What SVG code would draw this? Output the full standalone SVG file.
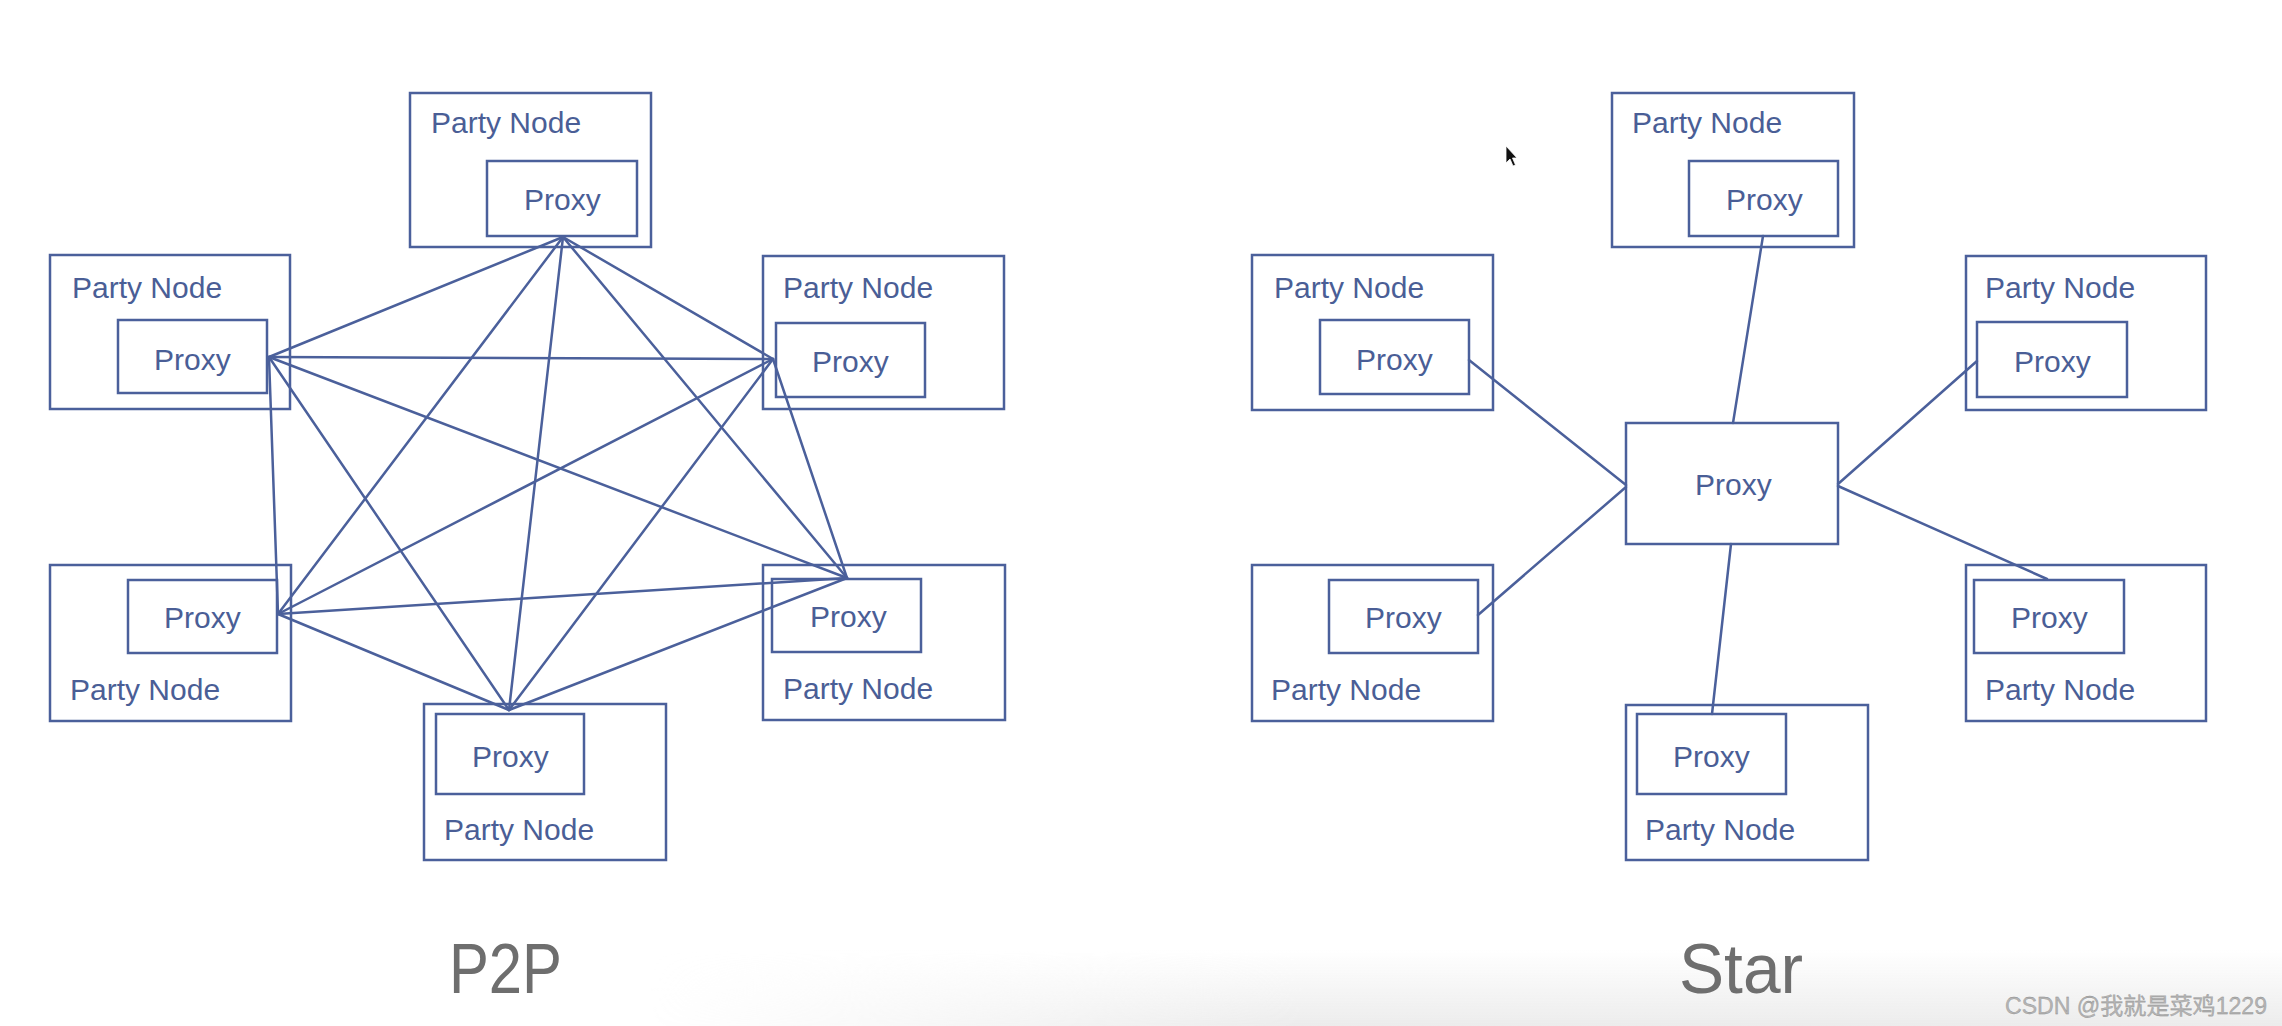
<svg xmlns="http://www.w3.org/2000/svg" width="2282" height="1026" viewBox="0 0 2282 1026">
  <defs>
    <style>
      .box { fill: none; stroke: #4b609b; stroke-width: 2.5; }
      .lbl { font-family: "Liberation Sans", Arial, sans-serif; font-size: 30px; fill: #4a5e96; }
      .edge { stroke: #4b609b; stroke-width: 2.5; fill: none; stroke-linecap: round; }
      .title { font-family: "Liberation Sans", Arial, sans-serif; font-size: 70px; fill: #6e6e6e; }
      .wm { font-family: "Liberation Sans", "Noto Sans CJK SC", sans-serif; font-size: 23px; fill: #b4b4b4; stroke: #8a8a8a; stroke-width: 0.3; }
    </style>
    <linearGradient id="shade" x1="0" y1="0" x2="0" y2="1">
      <stop offset="0" stop-color="#ededed" stop-opacity="0"/>
      <stop offset="1" stop-color="#ececec" stop-opacity="1"/>
    </linearGradient>
    <linearGradient id="fadeX" x1="0" y1="0" x2="1" y2="0">
      <stop offset="0" stop-color="#000000"/>
      <stop offset="0.4" stop-color="#ffffff"/>
      <stop offset="1" stop-color="#ffffff"/>
    </linearGradient>
    <mask id="shadeMask" maskUnits="userSpaceOnUse" x="0" y="940" width="2282" height="86">
      <rect x="650" y="940" width="1632" height="86" fill="url(#fadeX)"/>
    </mask>
  </defs>
  <rect x="0" y="0" width="2282" height="1026" fill="#ffffff"/>
  <rect x="650" y="950" width="1632" height="76" fill="url(#shade)" mask="url(#shadeMask)"/>

  <!-- P2P connectors -->
  <g id="p2p-connectors">
    <line class="edge" x1="563" y1="237" x2="269" y2="357"/>
    <line class="edge" x1="563" y1="237" x2="773" y2="359"/>
    <line class="edge" x1="563" y1="237" x2="278" y2="614"/>
    <line class="edge" x1="563" y1="237" x2="847" y2="578"/>
    <line class="edge" x1="563" y1="237" x2="509" y2="710"/>
    <line class="edge" x1="269" y1="357" x2="773" y2="359"/>
    <line class="edge" x1="269" y1="357" x2="278" y2="614"/>
    <line class="edge" x1="269" y1="357" x2="847" y2="578"/>
    <line class="edge" x1="269" y1="357" x2="509" y2="710"/>
    <line class="edge" x1="773" y1="359" x2="278" y2="614"/>
    <line class="edge" x1="773" y1="359" x2="847" y2="578"/>
    <line class="edge" x1="773" y1="359" x2="509" y2="710"/>
    <line class="edge" x1="278" y1="614" x2="847" y2="578"/>
    <line class="edge" x1="278" y1="614" x2="509" y2="710"/>
    <line class="edge" x1="847" y1="578" x2="509" y2="710"/>
  </g>

  <!-- P2P nodes -->
  <g id="p2p-top">
    <rect class="box" x="410" y="93" width="241" height="154"/>
    <text class="lbl" x="431" y="133">Party Node</text>
    <rect class="box" x="487" y="161" width="150" height="75"/>
    <text class="lbl" x="524" y="210">Proxy</text>
  </g>
  <g id="p2p-left-upper">
    <rect class="box" x="50" y="255" width="240" height="154"/>
    <text class="lbl" x="72" y="298">Party Node</text>
    <rect class="box" x="118" y="320" width="149" height="73"/>
    <text class="lbl" x="154" y="370">Proxy</text>
  </g>
  <g id="p2p-right-upper">
    <rect class="box" x="763" y="256" width="241" height="153"/>
    <text class="lbl" x="783" y="298">Party Node</text>
    <rect class="box" x="776" y="323" width="149" height="74"/>
    <text class="lbl" x="812" y="372">Proxy</text>
  </g>
  <g id="p2p-left-lower">
    <rect class="box" x="50" y="565" width="241" height="156"/>
    <rect class="box" x="128" y="580" width="149" height="73"/>
    <text class="lbl" x="164" y="628">Proxy</text>
    <text class="lbl" x="70" y="700">Party Node</text>
  </g>
  <g id="p2p-right-lower">
    <rect class="box" x="763" y="565" width="242" height="155"/>
    <rect class="box" x="772" y="579" width="149" height="73"/>
    <text class="lbl" x="810" y="627">Proxy</text>
    <text class="lbl" x="783" y="699">Party Node</text>
  </g>
  <g id="p2p-bottom">
    <rect class="box" x="424" y="704" width="242" height="156"/>
    <rect class="box" x="436" y="714" width="148" height="80"/>
    <text class="lbl" x="472" y="767">Proxy</text>
    <text class="lbl" x="444" y="840">Party Node</text>
  </g>

  <!-- Star connectors -->
  <g id="star-connectors">
    <line class="edge" x1="1763" y1="236" x2="1733" y2="423"/>
    <line class="edge" x1="1469" y1="360" x2="1626" y2="485"/>
    <line class="edge" x1="1977" y1="361" x2="1838" y2="484"/>
    <line class="edge" x1="1478" y1="615" x2="1626" y2="487"/>
    <line class="edge" x1="1838" y1="486" x2="2047" y2="579"/>
    <line class="edge" x1="1731" y1="544" x2="1712" y2="714"/>
  </g>

  <!-- Star nodes -->
  <g id="star-center">
    <rect class="box" x="1626" y="423" width="212" height="121"/>
    <text class="lbl" x="1695" y="495">Proxy</text>
  </g>
  <g id="star-top">
    <rect class="box" x="1612" y="93" width="242" height="154"/>
    <text class="lbl" x="1632" y="133">Party Node</text>
    <rect class="box" x="1689" y="161" width="149" height="75"/>
    <text class="lbl" x="1726" y="210">Proxy</text>
  </g>
  <g id="star-left-upper">
    <rect class="box" x="1252" y="255" width="241" height="155"/>
    <text class="lbl" x="1274" y="298">Party Node</text>
    <rect class="box" x="1320" y="320" width="149" height="74"/>
    <text class="lbl" x="1356" y="370">Proxy</text>
  </g>
  <g id="star-right-upper">
    <rect class="box" x="1966" y="256" width="240" height="154"/>
    <text class="lbl" x="1985" y="298">Party Node</text>
    <rect class="box" x="1977" y="322" width="150" height="75"/>
    <text class="lbl" x="2014" y="372">Proxy</text>
  </g>
  <g id="star-left-lower">
    <rect class="box" x="1252" y="565" width="241" height="156"/>
    <rect class="box" x="1329" y="580" width="149" height="73"/>
    <text class="lbl" x="1365" y="628">Proxy</text>
    <text class="lbl" x="1271" y="700">Party Node</text>
  </g>
  <g id="star-right-lower">
    <rect class="box" x="1966" y="565" width="240" height="156"/>
    <rect class="box" x="1974" y="580" width="150" height="73"/>
    <text class="lbl" x="2011" y="628">Proxy</text>
    <text class="lbl" x="1985" y="700">Party Node</text>
  </g>
  <g id="star-bottom">
    <rect class="box" x="1626" y="705" width="242" height="155"/>
    <rect class="box" x="1637" y="714" width="149" height="80"/>
    <text class="lbl" x="1673" y="767">Proxy</text>
    <text class="lbl" x="1645" y="840">Party Node</text>
  </g>

  <!-- Titles -->
  <text class="title" x="449" y="993" textLength="113" lengthAdjust="spacingAndGlyphs">P2P</text>
  <text class="title" x="1679" y="993" textLength="124" lengthAdjust="spacingAndGlyphs">Star</text>

  <!-- mouse cursor -->
  <path d="M1506,146 L1506,163 L1510,159 L1513,166 L1515.5,165 L1512.5,158 L1517,158 Z" fill="#111111" stroke="#ffffff" stroke-width="0.8"/>

  <!-- watermark -->
  <text class="wm" x="2005" y="1014" textLength="262" lengthAdjust="spacingAndGlyphs">CSDN @我就是菜鸡1229</text>
</svg>
